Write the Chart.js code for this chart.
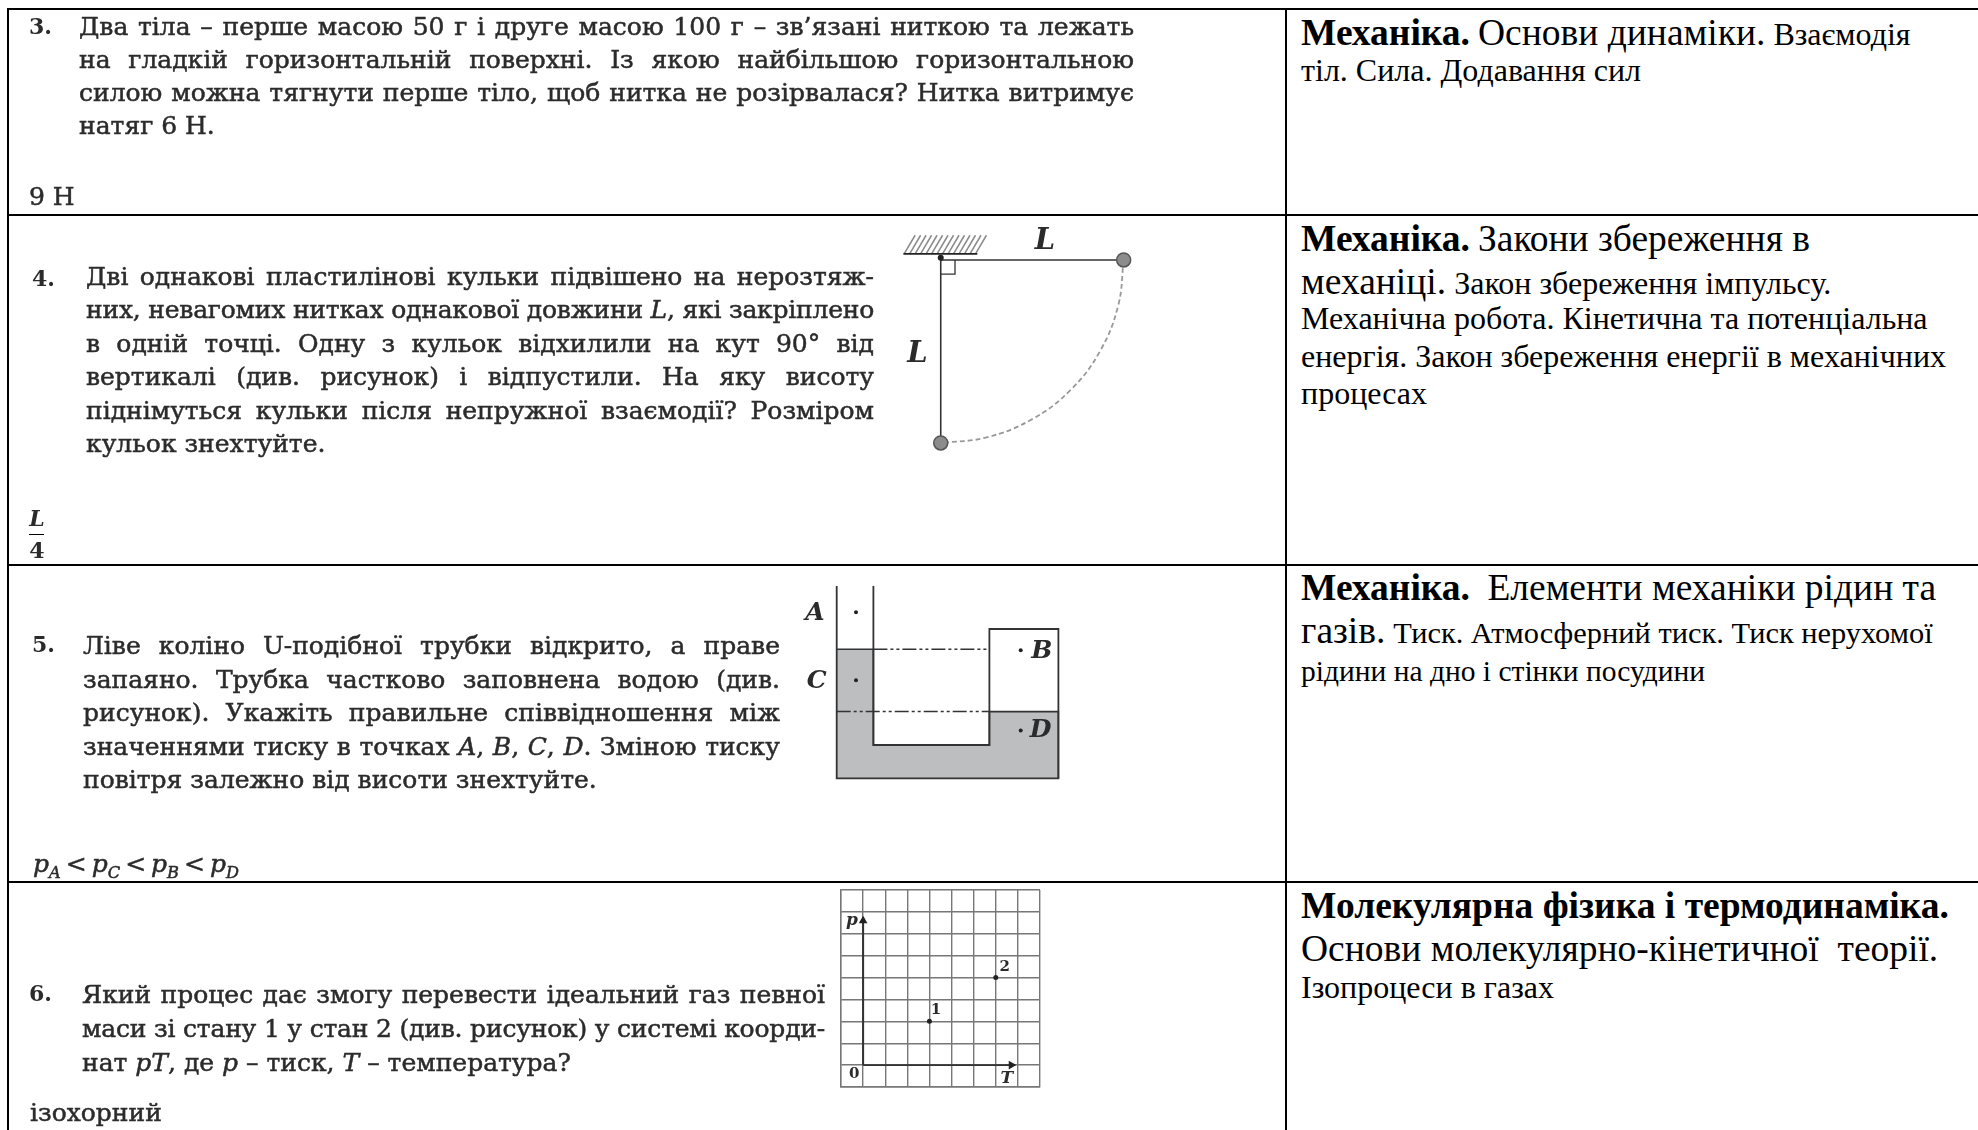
<!DOCTYPE html>
<html lang="uk">
<head>
<meta charset="utf-8">
<title>Фізика</title>
<script src="https://cdn.jsdelivr.net/npm/chart.js@4/dist/chart.umd.min.js"></script>
<style>
  html, body { margin: 0; background: #fff; width: 1978px; height: 1130px; overflow: hidden; }
  canvas { position: absolute; filter: blur(0.4px); }
  .rule { position: absolute; background: #000; }
  .q, .a, .num, .r { position: absolute; white-space: nowrap; line-height: 40px; }
  .q, .a, .num { font-family: "DejaVu Serif", serif; font-size: 25px; color: #2b2b2b; filter: blur(0.5px); -webkit-text-stroke: 0.5px #2b2b2b; }
  .q.just { text-align: justify; text-align-last: justify; }
  .num { font-weight: bold; font-size: 22px; -webkit-text-stroke: 0; }
  .r { font-family: "Liberation Serif", serif; color: #000; font-size: 32px; }
  .r b, .r .big { font-size: 37.5px; line-height: 0; }
  .r .sm { font-size: 29.5px; line-height: 0; }
  .r .sm2 { font-size: 30.4px; line-height: 0; }
  sub { font-size: 65%; line-height: 0; }
  .frac { position: absolute; font: italic bold 22px "DejaVu Serif", serif; color: #2b2b2b; filter: blur(0.5px); width: 30px; text-align: center; line-height: 26px; }
</style>
</head>
<body>
<script>
// текст завдань (ліва колонка)
const q3Lines = [
  "Два тіла – перше масою 50 г і друге масою 100 г – зв’язані ниткою та лежать",
  "на гладкій горизонтальній поверхні. Із якою найбільшою горизонтальною",
  "силою можна тягнути перше тіло, щоб нитка не розірвалася? Нитка витримує",
  "натяг 6 Н."
];
const q4Lines = [
  "Дві однакові пластилінові кульки підвішено на нерозтяж-",
  "них, невагомих нитках однакової довжини <i>L</i>, які закріплено",
  "в одній точці. Одну з кульок відхилили на кут 90° від",
  "вертикалі (див. рисунок) і відпустили. На яку висоту",
  "піднімуться кульки після непружної взаємодії? Розміром",
  "кульок знехтуйте."
];
const q5Lines = [
  "Ліве коліно U-подібної трубки відкрито, а праве",
  "запаяно. Трубка частково заповнена водою (див.",
  "рисунок). Укажіть правильне співвідношення між",
  "значеннями тиску в точках <i>A</i>, <i>B</i>, <i>C</i>, <i>D</i>. Зміною тиску",
  "повітря залежно від висоти знехтуйте."
];
const q6Lines = [
  "Який процес дає змогу перевести ідеальний газ певної",
  "маси зі стану 1 у стан 2 (див. рисунок) у системі коорди-",
  "нат <i>pT</i>, де <i>p</i> – тиск, <i>T</i> – температура?"
];
const questionNumbers = ["3.", "4.", "5.", "6."];
const answers = [
  "9 Н",
  "<i>p<sub>A</sub></i>&#8201;&lt;&#8201;<i>p<sub>C</sub></i>&#8201;&lt;&#8201;<i>p<sub>B</sub></i>&#8201;&lt;&#8201;<i>p<sub>D</sub></i>",
  "ізохорний"
];

// теми (права колонка)
const topicLines = [
  "<b>Механіка.</b> <span class='big'>Основи динаміки.</span> Взаємодія",
  "тіл. Сила. Додавання сил",
  "<b>Механіка.</b> <span class='big'>Закони збереження в</span>",
  "<span class='big'>механіці.</span> Закон збереження імпульсу.",
  "Механічна робота. Кінетична та потенціальна",
  "енергія. Закон збереження енергії в механічних",
  "процесах",
  "<b>Механіка.</b> <span class='big'>&nbsp;Елементи механіки рідин та</span>",
  "<span class='big'>газів.</span> <span class='sm2'>Тиск. Атмосферний тиск. Тиск нерухомої</span>",
  "<span class='sm'>рідини на дно і стінки посудини</span>",
  "<b>Молекулярна фізика і термодинаміка.</b>",
  "<span class='big'>Основи молекулярно-кінетичної&nbsp; теорії.</span>",
  "Ізопроцеси в газах"
];

// рисунок до задачі 4, довжина нитки L = 1
const threadX = [1, 0, 0];
const threadY = [0, 0, -1];
const arcX = [1, 0.97, 0.87, 0.71, 0.5, 0.25, 0];
const arcY = [0, -0.25, -0.5, -0.71, -0.87, -0.97, -1];
const hatchX = [-0.2, -0.17, -0.14, -0.11, -0.08, -0.05, -0.02, 0.01, 0.04, 0.07, 0.1, 0.13, 0.16, 0.19];
const ballX = [1, 0];
const ballY = [0, -1];
const pendulumLabels = ["L", "L"];
const pendulumLabelX = [0.57, -0.127];
const pendulumLabelY = [0.1, -0.515];

// рисунок до задачі 5, U-подібна трубка
const waterX = [0, 36.7, 36.7, 152.7, 152.7, 221.7, 221.7];
const waterY = [129, 129, 33.3, 33.3, 66.7, 66.7, 0];
const tubeX = [0, 0, 221.7, 221.7, 152.7, 152.7, 36.7, 36.7];
const tubeY = [192.3, 0, 0, 149.3, 149.3, 33.3, 33.3, 192.3];
const tubeDotX = [19.3, 19.3, 184, 184];
const tubeDotY = [166, 98, 128, 47.7];
const tubeLabels = ["A", "C", "B", "D"];
const tubeLabelX = [-21.7, -20, 205, 204];
const tubeLabelY = [165, 97, 127, 47.7];

// рисунок до задачі 6, діаграма p-T на сітці
const stateX = [4, 7];
const stateY = [3, 5];
const pAxisX = [1, 1];
const pAxisY = [1, 7.75];
const tAxisX = [1, 7.88];
const tAxisY = [1, 1];
const gridLabels = ["p", "0", "T", "1", "2"];
const gridLabelX = [0.5, 0.6, 7.5, 4.3, 7.4];
const gridLabelY = [7.6, 0.6, 0.4, 3.5, 5.5];

function addEl(cls, html, left, top, width) {
  const el = document.createElement("div");
  el.className = cls;
  el.innerHTML = html;
  el.style.left = left + "px";
  el.style.top = top + "px";
  if (width) el.style.width = width + "px";
  document.body.appendChild(el);
  return el;
}

function rule(left, top, width, height) {
  const el = addEl("rule", "", left, top, width);
  el.style.height = height + "px";
}

// 40px line-height: від базової лінії до верху блоку
const serifTop = (b, size) => b + 1 - 20 - 0.3515 * (size || 25);
const timesTop = b => b - 20 - 0.3375 * 32;

function questionBlock(lines, left, right, baselines) {
  lines.forEach((line, i) => {
    const just = i < lines.length - 1;
    const el = addEl(just ? "q just" : "q", line, left, serifTop(baselines[i]), just ? right - left : 0);
    // довгий рядок стискаємо до ширини колонки
    if (el.scrollWidth > el.clientWidth && just) {
      el.style.letterSpacing = (el.clientWidth - el.scrollWidth) / el.textContent.length + "px";
    }
  });
}

rule(7, 8, 2, 1122);
rule(1285, 8, 2, 1122);
rule(7, 8, 1971, 2);
rule(7, 214, 1971, 2);
rule(7, 564, 1971, 2);
rule(7, 881, 1971, 2);

questionBlock(q3Lines, 79, 1134, [35, 68, 101, 134]);
questionBlock(q4Lines, 86, 874, [285, 318, 352, 385, 419, 452]);
questionBlock(q5Lines, 83, 780, [654, 688, 721, 755, 788]);
questionBlock(q6Lines, 82, 825, [1003, 1037, 1071]);

const numX = [29, 32, 32, 29];
const numBase = [33, 285, 651, 1000];
questionNumbers.forEach((n, i) => addEl("num", n, numX[i], serifTop(numBase[i], 22)));

const answerX = [29, 33, 30];
const answerBase = [205, 872, 1121];
answers.forEach((a, i) => addEl("a", a, answerX[i], serifTop(answerBase[i])));

addEl("frac", "L", 22, 505);
addEl("frac", "4", 22, 537).style.fontStyle = "normal";
rule(29, 534, 15, 1);

const topicBase = [45, 81, 251, 294, 329, 367, 404, 600, 643, 681, 918, 961, 998];
topicLines.forEach((t, i) => addEl("r", t, 1301, timesTop(topicBase[i])));

// спільні налаштування Chart.js
function xy(xs, ys) {
  return xs.map((x, i) => ({ x, y: ys[i] }));
}

function textPlugin(texts, xs, ys, fontFor, color) {
  return {
    id: "diagramText",
    afterDatasetsDraw(chart) {
      const { ctx, scales } = chart;
      ctx.save();
      ctx.fillStyle = color;
      ctx.textAlign = "center";
      ctx.textBaseline = "middle";
      texts.forEach((t, i) => {
        ctx.font = fontFor(t);
        ctx.fillText(t, scales.x.getPixelForValue(xs[i]), scales.y.getPixelForValue(ys[i]));
      });
      ctx.restore();
    }
  };
}

// перший набір даних Chart.js малює останнім, тому порядок перевернуто
function diagram(left, top, width, height, datasets, scales, padding, plugin) {
  const canvas = document.createElement("canvas");
  canvas.width = width;
  canvas.height = height;
  canvas.style.left = left + "px";
  canvas.style.top = top + "px";
  document.body.appendChild(canvas);
  return new Chart(canvas.getContext("2d"), {
    type: "scatter",
    data: { datasets: datasets.reverse() },
    options: {
      responsive: false,
      animation: false,
      events: [],
      layout: { padding, autoPadding: false },
      plugins: { legend: { display: false }, tooltip: { enabled: false } },
      elements: { point: { radius: 0 } },
      scales
    },
    plugins: [plugin]
  });
}

const hidden = (min, max) => ({ type: "linear", display: false, min, max });

// маятник
const hatchPoints = [];
hatchX.forEach(x => {
  hatchPoints.push({ x, y: 0.033 }, { x: x + 0.06, y: 0.135 }, { x: x + 0.06, y: null });
});
diagram(880, 210, 300, 260, [
  { data: hatchPoints, showLine: true, borderColor: "#8a8a8a", borderWidth: 1.5, spanGaps: false },
  { data: xy([-0.204, 0.2], [0.033, 0.033]), showLine: true, borderColor: "#222", borderWidth: 1.8 },
  { data: xy(threadX, threadY), showLine: true, borderColor: "#333", borderWidth: 1.6 },
  { data: xy([0.078, 0.078, 0], [0, -0.078, -0.078]), showLine: true, borderColor: "#333", borderWidth: 1.3 },
  { data: xy(arcX, arcY), showLine: true, borderColor: "#999", borderWidth: 1.8, borderDash: [5, 3], tension: 0.4 },
  { data: xy([0], [0.012]), pointRadius: 3, pointBackgroundColor: "#222", pointBorderWidth: 0 },
  { data: xy(ballX, ballY), pointRadius: 7, pointBackgroundColor: "#8c8c8c", pointBorderColor: "#555", pointBorderWidth: 1.5 }
], { x: hidden(-0.332, 1.308), y: hidden(-1.148, 0.273) }, 0,
  textPlugin(pendulumLabels, pendulumLabelX, pendulumLabelY, () => "italic bold 29px 'DejaVu Serif'", "#2b2b2b"));

// U-подібна трубка
diagram(790, 570, 290, 220, [
  { data: xy(waterX, waterY), showLine: true, borderColor: "#333", borderWidth: 1.6, fill: "origin", backgroundColor: "#bcbec0" },
  { data: xy(tubeX, tubeY), showLine: true, borderColor: "#333", borderWidth: 1.8 },
  { data: xy([36.7, 152.7], [129, 129]), showLine: true, borderColor: "#333", borderWidth: 1.5, borderDash: [14, 3, 3, 3, 3, 3] },
  { data: xy([0, 152.7], [66.7, 66.7]), showLine: true, borderColor: "#333", borderWidth: 1.5, borderDash: [14, 3, 3, 3, 3, 3] },
  { data: xy(tubeDotX, tubeDotY), pointRadius: 2, pointBackgroundColor: "#222", pointBorderWidth: 0 }
], { x: hidden(-46.7, 243.3), y: hidden(-11.7, 208.3) }, 0,
  textPlugin(tubeLabels, tubeLabelX, tubeLabelY, () => "italic bold 25px 'DejaVu Serif'", "#2b2b2b"));

// сітка p-T: лінії сітки малює сама вісь
const gridAxis = {
  type: "linear",
  min: 0,
  max: 9,
  ticks: { display: false, stepSize: 1 },
  grid: { color: "#777", lineWidth: 1.4, drawTicks: false },
  border: { color: "#777", width: 1.4 }
};
diagram(835, 885, 210, 208, [
  { data: xy(pAxisX, pAxisY), showLine: true, borderColor: "#333", borderWidth: 2 },
  { data: xy(tAxisX, tAxisY), showLine: true, borderColor: "#333", borderWidth: 1.6 },
  { data: xy([1], [7.6]), pointStyle: "triangle", pointRadius: 5, pointBackgroundColor: "#222", pointBorderWidth: 0 },
  { data: xy([7.7], [1]), pointStyle: "triangle", pointRotation: 90, pointRadius: 5, pointBackgroundColor: "#222", pointBorderWidth: 0 },
  { data: xy(stateX, stateY), pointRadius: 2.5, pointBackgroundColor: "#222", pointBorderWidth: 0 }
], { x: gridAxis, y: gridAxis }, { left: 6, right: 5, top: 5, bottom: 6 },
  textPlugin(gridLabels, gridLabelX, gridLabelY,
    t => (t === "p" || t === "T" ? "italic bold 17px 'DejaVu Serif'" : "bold 15px 'DejaVu Serif'"), "#2b2b2b"));
</script>
</body>
</html>
